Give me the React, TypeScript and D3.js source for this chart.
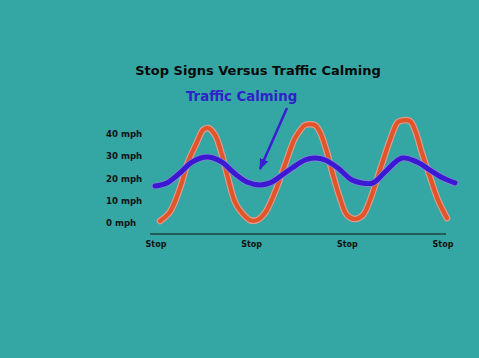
import React from "react";
import * as d3 from "d3";

const stopLabels = ["Stop", "Stop", "Stop", "Stop"];
const yTicks = [0, 10, 20, 30, 40];
const stopSignDist = [0.042, 0.146, 0.251, 0.334, 0.429, 0.491, 0.544, 0.617, 0.69, 0.753, 0.826, 0.899, 0.983, 1.056, 1.139, 1.244, 1.348, 1.453, 1.526, 1.557, 1.662, 1.714, 1.787, 1.85, 1.923, 1.996, 2.08, 2.164, 2.237, 2.341, 2.446, 2.519, 2.55, 2.655, 2.707, 2.78, 2.864, 2.948, 3.042];
const stopSignMph = [0.9, 5.0, 15.7, 27.4, 36.4, 41.8, 42.7, 39.6, 30.6, 20.2, 9.4, 4.5, 1.3, 1.3, 4.5, 13.9, 26.1, 38.2, 42.7, 44.0, 44.0, 40.9, 31.9, 21.6, 11.2, 3.6, 1.8, 3.6, 10.3, 23.8, 37.3, 44.9, 45.8, 45.8, 41.8, 31.5, 20.7, 10.3, 2.2];
const calmingDist = [-0.01, 0.115, 0.251, 0.376, 0.533, 0.69, 0.805, 0.951, 1.087, 1.192, 1.275, 1.422, 1.557, 1.662, 1.767, 1.902, 2.049, 2.153, 2.268, 2.415, 2.572, 2.728, 2.864, 3.0, 3.125];
const calmingMph = [16.6, 18.0, 22.5, 27.4, 29.7, 27.4, 22.9, 18.4, 17.1, 18.0, 20.2, 24.7, 28.3, 29.2, 28.3, 24.7, 19.3, 18.0, 18.0, 23.8, 29.2, 27.4, 23.8, 20.2, 18.0];

const W = 479;
const H = 358;

export default function App() {
  const x = d3.scaleLinear().domain([0, 3]).range([156, 443]);
  const y = d3.scaleLinear().domain([0, 40]).range([223, 134]);
  const mk = (xs: number[], ys: number[]) =>
    d3
      .line<number>()
      .x((i) => x(xs[i]))
      .y((i) => y(ys[i]))
      .curve(d3.curveCatmullRom.alpha(0.5))(xs.map((_, i) => i)) as string;
  const red = mk(stopSignDist, stopSignMph);
  const blue = mk(calmingDist, calmingMph);
  const font = "'DejaVu Sans', Verdana, sans-serif";
  return (
    <svg
      width={W}
      height={H}
      style={{ position: "absolute", left: 0, top: 0, display: "block" }}
    >
      <defs>
        <marker id="ah" viewBox="0 0 10 10" refX="9" refY="5" markerWidth="4.5" markerHeight="4.5" orient="auto">
          <path d="M0,1 L10,5 L0,9 z" fill="#3a1ed4" />
        </marker>
      </defs>
      <rect x={0} y={0} width={W} height={H} fill="#34a7a4" />
      <text x={258} y={75} textAnchor="middle" fontFamily={font} fontWeight="bold" fontSize={13} fill="#0a0a0a">
        Stop Signs Versus Traffic Calming
      </text>
      <text x={186} y={101} fontFamily={font} fontWeight="bold" fontSize={13.3} fill="#2f22c8">
        Traffic Calming
      </text>
      <line x1={287} y1={108} x2={260} y2={169} stroke="#3a1ed4" strokeWidth={2.5} markerEnd="url(#ah)" />
      {yTicks.map((t) => (
        <text key={t} x={106} y={y(t)} dy="0.35em" fontFamily={font} fontWeight="bold" fontSize={8.6} fill="#111">
          {t} mph
        </text>
      ))}
      <line x1={150} y1={234} x2={446} y2={234} stroke="#111" strokeWidth={1} />
      {stopLabels.map((s, i) => (
        <text key={i} x={x(i)} y={244} dy="0.35em" textAnchor="middle" fontFamily={font} fontWeight="bold" fontSize={8} fill="#111">
          {s}
        </text>
      ))}
      <path d={red} fill="none" stroke="#e59a8c" strokeWidth={6.5} strokeLinecap="round" strokeLinejoin="round" />
      <path d={red} fill="none" stroke="#e0552a" strokeWidth={4.2} strokeLinecap="round" strokeLinejoin="round" />
      <path d={blue} fill="none" stroke="#8a86d8" strokeWidth={6.5} strokeLinecap="round" strokeLinejoin="round" />
      <path d={blue} fill="none" stroke="#3b18d2" strokeWidth={5} strokeLinecap="round" strokeLinejoin="round" />
    </svg>
  );
}
